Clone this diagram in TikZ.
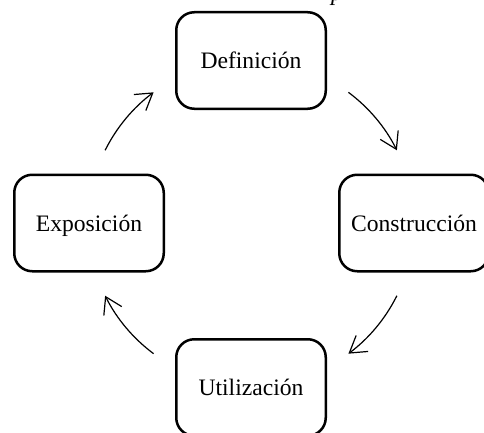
\documentclass[tikz,border=0pt]{standalone}
\usepackage{fontspec}
\setmainfont{Liberation Serif}
\usetikzlibrary{arrows.meta,calc}
\begin{document}
\begin{tikzpicture}[x=1pt,y=1pt,
  stagebox/.style={draw=black, line width=2.5pt, rounded corners=18pt,
    minimum width=149.5pt, minimum height=96.5pt, inner sep=0pt,
    font=\fontsize{23.6}{28}\selectfont, text height=16pt, text depth=0pt},
  cyclearrow/.style={line width=1.2pt, -{Straight Barb[length=16pt,width=20pt,line width=1.2pt]}}]
\clip (0,0) rectangle (484,432);
\coordinate (c) at (251,209);
\node[stagebox] (def) at (251,371.5) {Definición};
\node[stagebox] (con) at (414,209) {Construcción};
\node[stagebox] (uti) at (251,44.5) {Utilización};
\node[stagebox] (exp) at (89,209) {Exposición};
\node[anchor=base west, inner sep=0pt, font=\fontsize{23.6}{28}\selectfont\itshape] (ttl) at (331,431) {p};
\coordinate (s1) at ($(c)+(53.3:163)$);
\coordinate (s2) at ($(c)+(-26.5:163)$);
\coordinate (s3) at ($(c)+(-126.7:163)$);
\coordinate (s4) at ($(c)+(153.5:163)$);
\draw[cyclearrow] (s1) arc[start angle=53.3, end angle=26.5, radius=163];
\draw[cyclearrow] (s2) arc[start angle=-26.5, end angle=-53.3, radius=163];
\draw[cyclearrow] (s3) arc[start angle=-126.7, end angle=-153.5, radius=163];
\draw[cyclearrow] (s4) arc[start angle=153.5, end angle=126.7, radius=163];
\end{tikzpicture}
\end{document}
